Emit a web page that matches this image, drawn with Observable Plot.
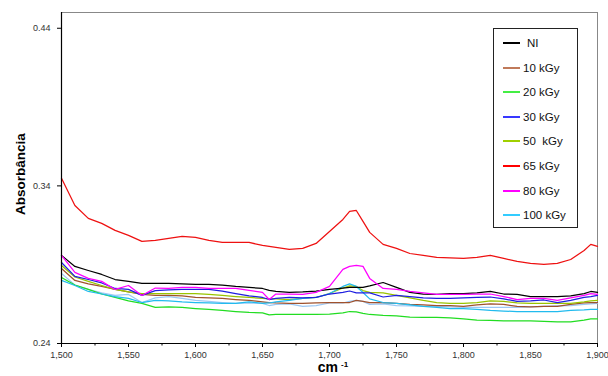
<!DOCTYPE html>
<html><head><meta charset="utf-8">
<script src="https://cdn.jsdelivr.net/npm/d3@7"></script>
<script src="https://cdn.jsdelivr.net/npm/@observablehq/plot@0.6"></script>
<style>
body{margin:0;background:#fff;}
#wrap{position:relative;width:608px;height:376px;font-family:"Liberation Sans",Arial,sans-serif;}
#legend{position:absolute;left:493px;top:28px;width:85px;height:200px;border:1px solid #222;background:#fff;box-sizing:border-box;}
.item{position:absolute;left:9px;height:14px;font-size:11.5px;color:#111;white-space:pre;line-height:14px;}
.sw{position:absolute;left:0;top:6px;width:17px;height:2px;}
.tx{position:absolute;left:20px;top:0;}
</style></head><body><div id="wrap"></div>
<script>
const wavenumbers = [1500,1510,1520,1530,1540,1550,1560,1570,1580,1590,1600,1610,1620,1630,1640,1650,1655,1660,1670,1680,1690,1700,1710,1715,1720,1725,1730,1740,1750,1760,1770,1780,1790,1800,1810,1820,1830,1840,1850,1860,1870,1880,1890,1895,1900];

const ni     = [0.2959,0.2889,0.2863,0.2838,0.2806,0.2794,0.2781,0.2781,0.2781,0.2778,0.2775,0.2775,0.2771,0.2762,0.2756,0.2749,0.2737,0.2730,0.2724,0.2727,0.2733,0.2743,0.2752,0.2756,0.2756,0.2756,0.2765,0.2787,0.2756,0.2724,0.2714,0.2711,0.2717,0.2717,0.2721,0.2730,0.2714,0.2711,0.2698,0.2698,0.2698,0.2702,0.2717,0.2730,0.2724];
const kgy10  = [0.2876,0.2800,0.2778,0.2762,0.2743,0.2727,0.2711,0.2705,0.2705,0.2702,0.2692,0.2689,0.2686,0.2679,0.2673,0.2664,0.2660,0.2657,0.2654,0.2654,0.2657,0.2660,0.2660,0.2660,0.2673,0.2667,0.2660,0.2660,0.2654,0.2648,0.2645,0.2641,0.2641,0.2635,0.2645,0.2651,0.2648,0.2635,0.2632,0.2635,0.2635,0.2648,0.2657,0.2660,0.2660];
const kgy20  = [0.2819,0.2771,0.2743,0.2714,0.2692,0.2670,0.2654,0.2629,0.2632,0.2629,0.2622,0.2616,0.2610,0.2603,0.2597,0.2594,0.2581,0.2584,0.2584,0.2584,0.2584,0.2587,0.2594,0.2603,0.2600,0.2591,0.2584,0.2578,0.2575,0.2568,0.2565,0.2565,0.2562,0.2556,0.2549,0.2546,0.2543,0.2543,0.2543,0.2540,0.2537,0.2537,0.2549,0.2556,0.2556];
const kgy30  = [0.2914,0.2826,0.2806,0.2784,0.2749,0.2743,0.2705,0.2736,0.2740,0.2743,0.2743,0.2743,0.2733,0.2717,0.2702,0.2692,0.2679,0.2686,0.2692,0.2689,0.2692,0.2714,0.2724,0.2733,0.2721,0.2721,0.2721,0.2695,0.2705,0.2698,0.2689,0.2686,0.2686,0.2689,0.2692,0.2695,0.2683,0.2667,0.2670,0.2676,0.2660,0.2673,0.2692,0.2698,0.2705];
const kgy50  = [0.2895,0.2822,0.2794,0.2768,0.2743,0.2727,0.2717,0.2717,0.2717,0.2717,0.2717,0.2711,0.2705,0.2698,0.2692,0.2686,0.2683,0.2683,0.2679,0.2686,0.2692,0.2717,0.2752,0.2765,0.2762,0.2736,0.2724,0.2721,0.2705,0.2689,0.2673,0.2660,0.2654,0.2654,0.2660,0.2670,0.2667,0.2657,0.2654,0.2654,0.2654,0.2654,0.2664,0.2670,0.2673];
const kgy65  = [0.3448,0.3276,0.3194,0.3162,0.3118,0.3086,0.3048,0.3054,0.3067,0.3079,0.3073,0.3054,0.3041,0.3041,0.3041,0.3022,0.3016,0.3010,0.2997,0.3003,0.3035,0.3111,0.3187,0.3238,0.3244,0.3175,0.3105,0.3029,0.3003,0.2971,0.2959,0.2946,0.2943,0.2940,0.2946,0.2959,0.2940,0.2921,0.2908,0.2902,0.2908,0.2933,0.2990,0.3029,0.3016];
const kgy80  = [0.2959,0.2851,0.2813,0.2794,0.2743,0.2768,0.2705,0.2752,0.2749,0.2756,0.2756,0.2749,0.2749,0.2749,0.2737,0.2724,0.2679,0.2714,0.2714,0.2711,0.2724,0.2762,0.2870,0.2889,0.2895,0.2889,0.2813,0.2749,0.2743,0.2730,0.2721,0.2711,0.2711,0.2711,0.2714,0.2714,0.2698,0.2679,0.2686,0.2686,0.2673,0.2689,0.2705,0.2717,0.2711];
const kgy100 = [0.2800,0.2768,0.2730,0.2714,0.2698,0.2686,0.2660,0.2673,0.2670,0.2664,0.2660,0.2657,0.2654,0.2654,0.2664,0.2654,0.2657,0.2664,0.2673,0.2686,0.2692,0.2717,0.2762,0.2778,0.2762,0.2724,0.2683,0.2660,0.2654,0.2645,0.2635,0.2629,0.2622,0.2622,0.2616,0.2610,0.2606,0.2603,0.2603,0.2603,0.2603,0.2610,0.2613,0.2616,0.2616];
const unlabeled = [0.2845,0.2771,0.2743,0.2721,0.2705,0.2711,0.2660,0.2689,0.2698,0.2686,0.2673,0.2667,0.2660,0.2654,0.2657,0.2654,0.2641,0.2648,0.2651,0.2635,0.2641,0.2657,0.2657,0.2667,0.2673,0.2667,0.2648,0.2651,0.2641,0.2638,0.2635,0.2635,0.2632,0.2629,0.2629,0.2629,0.2629,0.2629,0.2632,0.2635,0.2638,0.2641,0.2648,0.2651,0.2654];

const legendNames  = ["NI","10 kGy","20 kGy","30 kGy","50  kGy","65 kGy","80 kGy","100 kGy"];
const legendColors = ["#000000","#c07a5a","#44ee44","#3838ff","#a0d000","#ff0000","#ff00ff","#33ccff"];
const lineColors   = ["#000000","#a0522d","#22dd22","#1f1fe0","#99c400","#ee1111","#ff00ff","#22bbee","#9cc8f5"];
const yTicks = [0.24, 0.34, 0.44];
const xTicks = [1500,1550,1600,1650,1700,1750,1800,1850,1900];
const xMinorTicks = [1525,1575,1625,1675,1725,1775,1825,1875];

const seriesList = [
  {name:"NI", values:ni},
  {name:"10 kGy", values:kgy10},
  {name:"20 kGy", values:kgy20},
  {name:"30 kGy", values:kgy30},
  {name:"50  kGy", values:kgy50},
  {name:"65 kGy", values:kgy65},
  {name:"80 kGy", values:kgy80},
  {name:"100 kGy", values:kgy100},
  {name:"extra", values:unlabeled}
];
const drawOrder = ["extra","20 kGy","10 kGy","50  kGy","100 kGy","30 kGy","NI","80 kGy","65 kGy"];
const rows = [];
for (const nm of drawOrder) {
  const s = seriesList.find(d => d.name === nm);
  s.values.forEach((v, i) => rows.push({x: wavenumbers[i], y: v, name: s.name}));
}

const font = '"Liberation Sans", Arial, sans-serif';
const plot = Plot.plot({
  width: 608, height: 376,
  marginLeft: 61, marginRight: 11, marginTop: 12, marginBottom: 33,
  style: {fontFamily: font, fontSize: "9px", color: "#333", background: "#fff"},
  x: {domain: [1500, 1900]},
  y: {domain: [0.24, 0.45]},
  color: {domain: seriesList.map(d => d.name), range: lineColors},
  marks: [
    Plot.frame({stroke: "#888"}),
    Plot.line(rows, {x: "x", y: "y", z: "name", stroke: "name", strokeWidth: 1.25}),
    Plot.ruleX([1500], {stroke: "#000", strokeWidth: 1.2}),
    Plot.ruleY([0.24], {stroke: "#000", strokeWidth: 1.2}),
    Plot.axisY(yTicks, {tickSize: 4, tickPadding: 7, tickFormat: d3.format(".2f"), label: null, stroke: "#000"}),
    Plot.axisX(xTicks, {tickSize: 4, tickPadding: 4, tickFormat: d3.format(","), label: null, stroke: "#000"}),
    Plot.axisX(xMinorTicks, {tickSize: 2.5, tickFormat: () => "", label: null, stroke: "#000"})
  ]
});
const wrap = document.getElementById("wrap");
wrap.appendChild(plot);

const svg = d3.select(plot);
svg.append("text")
  .attr("transform", "translate(25,174) rotate(-90)")
  .attr("text-anchor", "middle")
  .attr("font-family", font).attr("font-weight", "bold").attr("font-size", 13.5).attr("fill", "#000")
  .text("Absorbância");
svg.append("text")
  .attr("x", 338).attr("y", 372)
  .attr("text-anchor", "end")
  .attr("font-family", font).attr("font-weight", "bold").attr("font-size", 14).attr("fill", "#000")
  .text("cm");
svg.append("text")
  .attr("x", 341).attr("y", 366.5)
  .attr("text-anchor", "start")
  .attr("font-family", font).attr("font-weight", "bold").attr("font-size", 8).attr("fill", "#000")
  .text("-1");

const legend = document.createElement("div");
legend.id = "legend";
legendNames.forEach((nm, i) => {
  const it = document.createElement("div");
  it.className = "item";
  it.style.top = Math.round(7 + i * 24.6) + "px";
  const sw = document.createElement("div");
  sw.className = "sw";
  sw.style.backgroundColor = legendColors[i];
  const tx = document.createElement("div");
  tx.className = "tx";
  if (i === 0) tx.style.left = "24px";
  tx.textContent = nm;
  it.appendChild(sw); it.appendChild(tx);
  legend.appendChild(it);
});
wrap.appendChild(legend);
</script></body></html>
